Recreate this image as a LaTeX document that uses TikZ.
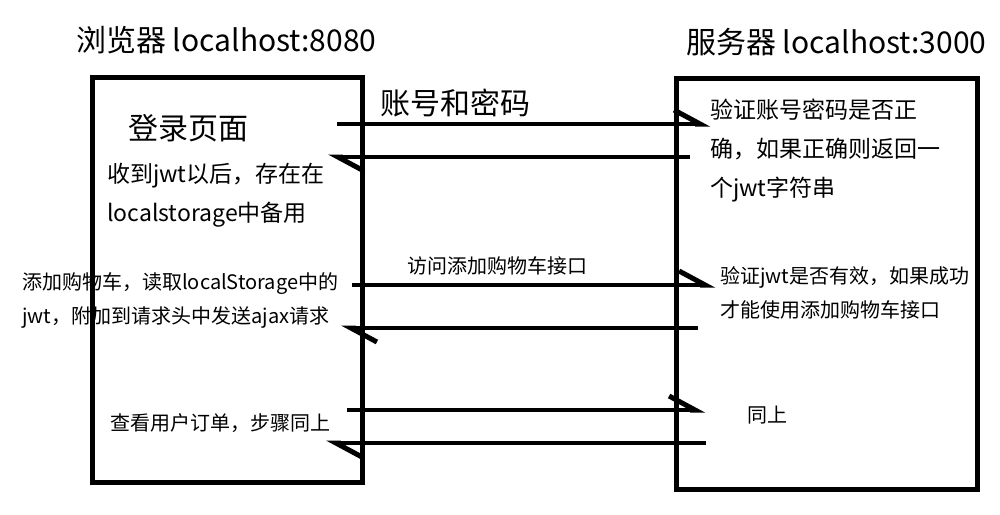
\documentclass[tikz,border=0pt]{standalone}
\usepackage{fontspec}
\setmainfont{Noto Sans CJK SC}
\usetikzlibrary{arrows.meta}

\tikzset{
  box/.style={draw=black, line width=5pt},
  msg/.style={draw=black, line width=4.5pt,
    -{Straight Barb[harpoon, length=26pt, width=28pt, line width=5pt]}},
  txt/.style={anchor=west, inner sep=0pt, align=left},
  big/.style={font=\fontsize{30pt}{36pt}\selectfont},
  mid/.style={font=\fontsize{23pt}{39pt}\selectfont},
  small/.style={font=\fontsize{20pt}{34pt}\selectfont}
}

\begin{document}
\begin{tikzpicture}[x=1pt, y=-1pt]
\useasboundingbox (0,0) rectangle (1000,514);

% two boxes
\draw[box] (92,77) rectangle (362,482);
\draw[box] (676,78) rectangle (977,489);

% titles
\node[txt, big] (browser) at (76,40) {浏览器 localhost:8080};
\node[txt, big] (server) at (686,42) {服务器 localhost:3000};

% browser side
\node[txt, big] (login) at (128,128) {登录页面};
\node[txt, mid] (store) at (107,195) {收到jwt以后，存在在\\localstorage中备用};
\node[txt, small] (cart) at (22,300) {添加购物车，读取localStorage中的\\jwt，附加到请求头中发送ajax请求};
\node[txt, small] (order) at (110,423) {查看用户订单，步骤同上};

% server side
\node[txt, mid] (check) at (710,151) {验证账号密码是否正\\确，如果正确则返回一\\个jwt字符串};
\node[txt, small] (verify) at (720,293) {验证jwt是否有效，如果成功\\才能使用添加购物车接口};
\node[txt, small] (same) at (747,415) {同上};

% message end points
\coordinate (a1) at (337,124);  \coordinate (b1) at (710,124);
\coordinate (a2) at (690,157);  \coordinate (b2) at (328,157);
\coordinate (a3) at (352,285);  \coordinate (b3) at (715,285);
\coordinate (a4) at (698,328);  \coordinate (b4) at (341,328);
\coordinate (a5) at (347,410);  \coordinate (b5) at (705,410);
\coordinate (a6) at (706,443);  \coordinate (b6) at (326,443);

% messages
\draw[msg] (a1) -- (b1);
\draw[msg] (a2) -- (b2);
\draw[msg] (a3) -- (b3);
\draw[msg] (a4) -- (b4);
\draw[msg] (a5) -- (b5);
\draw[msg] (a6) -- (b6);

% message labels
\node[txt, big] (cred) at (380,103) {账号和密码};
\node[txt, small] (api) at (407,266) {访问添加购物车接口};
\end{tikzpicture}
\end{document}
